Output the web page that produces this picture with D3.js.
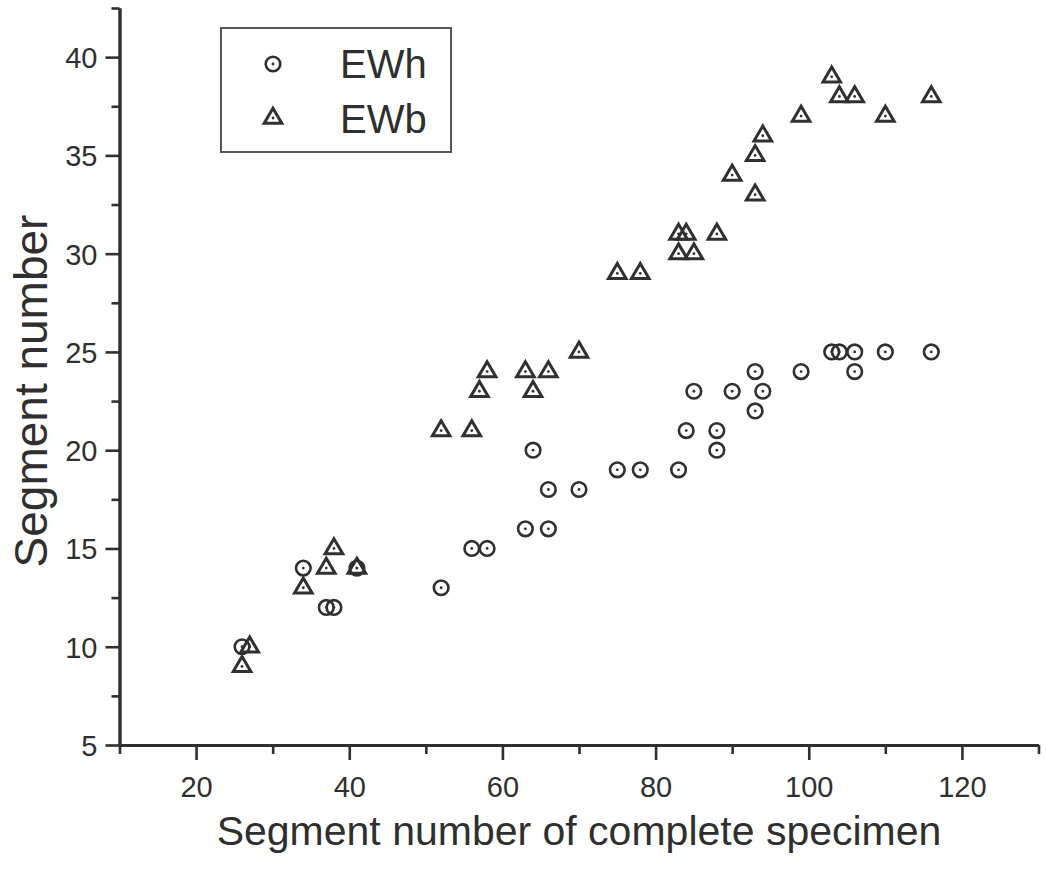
<!DOCTYPE html>
<html>
<head>
<meta charset="utf-8">
<script src="https://cdn.jsdelivr.net/npm/d3@7"></script>
<style>
  html, body { margin: 0; padding: 0; background: #ffffff; }
  svg { display: block; }
  text { font-family: "Liberation Sans", Arial, sans-serif; fill: #2f2f2f; }
</style>
</head>
<body>
<svg id="chart" width="1047" height="869"></svg>
<script>
// ---- data ----
const ewhX = [26, 34, 37, 38, 41, 52, 56, 58, 63, 66, 64, 66, 70, 75, 78, 83, 84, 88, 88, 85, 90, 93, 94, 93, 99, 103, 104, 106, 110, 116, 106];
const ewhY = [10, 14, 12, 12, 14, 13, 15, 15, 16, 16, 20, 18, 18, 19, 19, 19, 21, 21, 20, 23, 23, 24, 23, 22, 24, 25, 25, 25, 25, 25, 24];
const ewbX = [26, 27, 34, 37, 38, 41, 52, 56, 57, 58, 63, 64, 66, 70, 75, 78, 83, 83, 84, 85, 88, 90, 93, 93, 94, 99, 103, 104, 106, 110, 116];
const ewbY = [9, 10, 13, 14, 15, 14, 21, 21, 23, 24, 24, 23, 24, 25, 29, 29, 30, 31, 31, 30, 31, 34, 33, 35, 36, 37, 39, 38, 38, 37, 38];
const xMajor = [20, 40, 60, 80, 100, 120];
const xMinor = [10, 30, 50, 70, 90, 110, 130];
const yMajor = [5, 10, 15, 20, 25, 30, 35, 40];
const yMinor = [7.5, 12.5, 17.5, 22.5, 27.5, 32.5, 37.5, 42.5];
const seriesNames = ["EWh", "EWb"];
const xTitle = "Segment number of complete specimen";
const yTitle = "Segment number";

// ---- layout ----
const svg = d3.select("#chart");
const ink = "#303030";
const x = d3.scaleLinear().domain([10, 130]).range([119.5, 1038.5]);
const y = d3.scaleLinear().domain([5, 42.5]).range([745, 8]);

// axes
const gx = svg.append("g").attr("transform", `translate(0,${y(5)})`);
gx.call(d3.axisBottom(x).tickValues(xMajor).tickSize(15).tickSizeOuter(0).tickPadding(10).tickFormat(d3.format("d")));
const gxm = svg.append("g").attr("transform", `translate(0,${y(5)})`);
gxm.call(d3.axisBottom(x).tickValues(xMinor).tickSize(9).tickSizeOuter(0).tickFormat(""));

const gy = svg.append("g").attr("transform", `translate(${x(10)},0)`);
gy.call(d3.axisLeft(y).tickValues(yMajor).tickSize(14).tickSizeOuter(0).tickPadding(8).tickFormat(d3.format("d")));
const gym = svg.append("g").attr("transform", `translate(${x(10)},0)`);
gym.call(d3.axisLeft(y).tickValues(yMinor).tickSize(8).tickSizeOuter(0).tickFormat(""));

[gx, gxm, gy, gym].forEach(g => {
  g.selectAll(".domain").attr("stroke", ink).attr("stroke-width", 3);
  g.selectAll(".tick line").attr("stroke", ink).attr("stroke-width", 2.6);
  g.selectAll(".tick text").attr("fill", ink).style("font-size", "29px")
    .style("font-family", '"Liberation Sans", Arial, sans-serif');
});
gx.selectAll(".tick text").attr("dy", "0.93em");
gy.selectAll(".tick text").attr("dy", "0.36em");

// axis titles
svg.append("text")
  .attr("x", 579)
  .attr("y", 845)
  .attr("text-anchor", "middle")
  .style("font-size", "41px")
  .text(xTitle);

svg.append("text")
  .attr("transform", `translate(47,391) rotate(-90)`)
  .attr("text-anchor", "middle")
  .style("font-size", "46px")
  .text(yTitle);

// markers
const triPath = "M0,-9.8L8.8,5.2L-8.8,5.2Z";
function drawCircle(g, cx, cy) {
  g.append("circle").attr("cx", cx).attr("cy", cy).attr("r", 7.3)
    .attr("fill", "none").attr("stroke", ink).attr("stroke-width", 2.6);
  g.append("circle").attr("cx", cx).attr("cy", cy).attr("r", 1.4).attr("fill", ink);
}
function drawTri(g, cx, cy) {
  g.append("path").attr("d", triPath).attr("transform", `translate(${cx},${cy})`)
    .attr("fill", "none").attr("stroke", ink).attr("stroke-width", 3).attr("stroke-linejoin", "miter");
  g.append("circle").attr("cx", cx).attr("cy", cy).attr("r", 1.4).attr("fill", ink);
}

const gh = svg.append("g");
ewhX.forEach((v, i) => drawCircle(gh, x(v), y(ewhY[i])));
const gb = svg.append("g");
ewbX.forEach((v, i) => drawTri(gb, x(v), y(ewbY[i])));

// legend
const lg = svg.append("g");
lg.append("rect").attr("x", 221).attr("y", 28).attr("width", 230).attr("height", 124)
  .attr("fill", "#ffffff").attr("stroke", "#555555").attr("stroke-width", 2);
drawCircle(lg, 273, 64);
drawTri(lg, 273, 118);
lg.append("text").attr("x", 340).attr("y", 78).style("font-size", "40px").text(seriesNames[0]);
lg.append("text").attr("x", 340).attr("y", 133).style("font-size", "40px").text(seriesNames[1]);
</script>
</body>
</html>
